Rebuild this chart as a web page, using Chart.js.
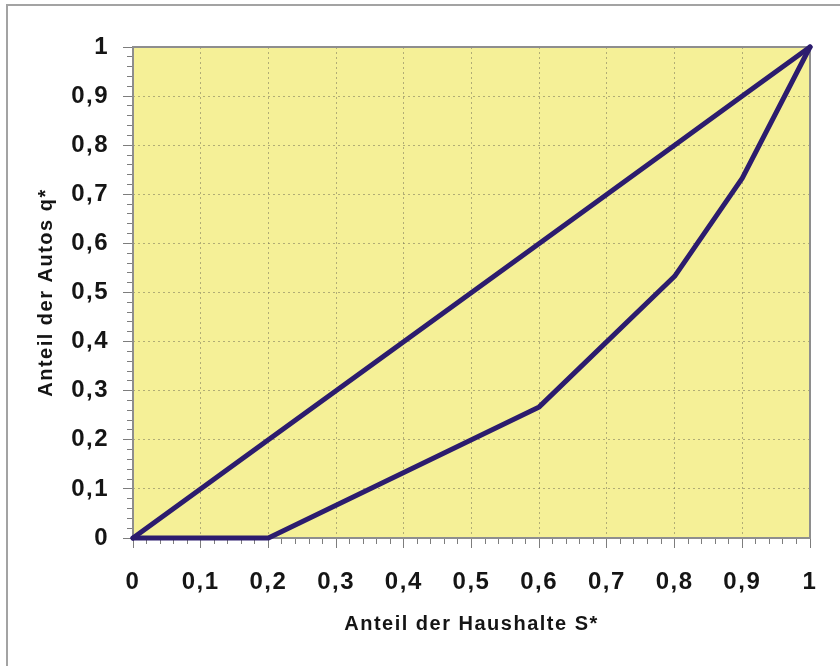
<!DOCTYPE html>
<html>
<head>
<meta charset="utf-8">
<script src="https://cdn.jsdelivr.net/npm/chart.js@4"></script>
<style>
  html, body { margin: 0; padding: 0; background: #ffffff; }
  #wrap { position: relative; width: 840px; height: 666px; }
  #c { position: absolute; left: 0; top: 0; }
  #frame { position: absolute; left: 6px; top: 4px; width: 840px; height: 670px;
           border-top: 2px solid #a3a3a3; border-left: 2px solid #a3a3a3; pointer-events: none; }
</style>
</head>
<body>
<div id="wrap">
  <canvas id="c" width="840" height="666"></canvas>
  <div id="frame"></div>
</div>
<script>
// ---- data ----
const householdShares = [0, 0.2, 0.6, 0.8, 0.9, 1];          // Anteil der Haushalte S*
const equalityLine   = [0, 0.2, 0.6, 0.8, 0.9, 1];           // Gleichverteilung
const lorenzCurve    = [0, 0, 0.267, 0.533, 0.733, 1];       // Anteil der Autos q*
const xTitle = 'Anteil der Haushalte S*';
const yTitle = 'Anteil der Autos q*';

const fmt = v => String(Math.round(v * 10) / 10).replace('.', ',');
const toPts = ys => householdShares.map((x, i) => ({ x: x, y: ys[i] }));

const LINE = '#2c1c6e';
const TXT = '#151515';
const TICK = '#7d7d7d';
const GRID = 'rgba(120,118,90,0.55)';

const spacingPlugin = {
  id: 'spacing',
  beforeLayout(chart) { chart.ctx.letterSpacing = '1.5px'; },
  beforeDraw(chart) {
    chart.ctx.letterSpacing = '1.5px';
    const { ctx, chartArea: a } = chart;
    ctx.save();
    ctx.fillStyle = '#f5f097';
    ctx.fillRect(a.left, a.top, a.right - a.left, a.bottom - a.top);
    ctx.restore();
  },
  beforeDatasetsDraw(chart) {
    const { ctx, chartArea: a } = chart;
    ctx.save();
    ctx.strokeStyle = '#8e8e8e';
    ctx.lineWidth = 2;
    ctx.strokeRect(a.left, a.top, a.right - a.left, a.bottom - a.top);
    ctx.restore();
  }
};

const font = (s) => ({ family: '"Liberation Sans", Arial, sans-serif', size: s, weight: 'bold' });

new Chart(document.getElementById('c'), {
  type: 'line',
  data: {
    datasets: [
      { data: toPts(equalityLine), borderColor: LINE, borderWidth: 5, pointRadius: 0,
        tension: 0, clip: false, borderCapStyle: 'round', borderJoinStyle: 'round' },
      { data: toPts(lorenzCurve), borderColor: LINE, borderWidth: 5, pointRadius: 0,
        tension: 0, clip: false, borderCapStyle: 'round', borderJoinStyle: 'round' }
    ]
  },
  options: {
    responsive: false,
    animation: false,
    events: [],
    layout: { padding: { left: 0, top: 47, right: 30, bottom: 0 } },
    plugins: { legend: { display: false }, tooltip: { enabled: false } },
    scales: {
      x: {
        type: 'linear', position: 'bottom', weight: 1, min: 0, max: 1,
        ticks: { stepSize: 0.1, callback: fmt, font: font(24), color: TXT, padding: 20,
                 maxRotation: 0, autoSkip: false },
        grid: { color: GRID, tickColor: TICK, tickLength: 10, lineWidth: 1, tickBorderDash: [] },
        border: { display: false, dash: [2, 3] },
        title: { display: true, text: xTitle, font: font(20), color: TXT,
                 padding: { top: 0, bottom: 30 } },
        afterFit: s => { s.height = 128; }
      },
      x2: {
        type: 'linear', position: 'bottom', weight: 0, min: 0, max: 1,
        ticks: { stepSize: 0.02, display: false, autoSkip: false },
        grid: { drawOnChartArea: false, color: TICK, tickColor: TICK, tickLength: 6 },
        border: { display: false },
        afterFit: s => { s.height = 0; }
      },
      y: {
        type: 'linear', position: 'left', weight: 1, min: 0, max: 1,
        ticks: { stepSize: 0.1, callback: fmt, font: font(24), color: TXT, padding: 14,
                 autoSkip: false },
        grid: { color: GRID, tickColor: TICK, tickLength: 10, lineWidth: 1, tickBorderDash: [] },
        border: { display: false, dash: [2, 3] },
        title: { display: true, text: yTitle, font: font(20), color: TXT,
                 padding: { top: 34, bottom: 0 } },
        afterFit: s => { s.width = 133; }
      },
      y2: {
        type: 'linear', position: 'left', weight: 0, min: 0, max: 1,
        ticks: { stepSize: 0.02, display: false, autoSkip: false },
        grid: { drawOnChartArea: false, color: TICK, tickColor: TICK, tickLength: 6 },
        border: { display: false },
        afterFit: s => { s.width = 0; }
      }
    }
  },
  plugins: [spacingPlugin]
});
</script>
</body>
</html>
